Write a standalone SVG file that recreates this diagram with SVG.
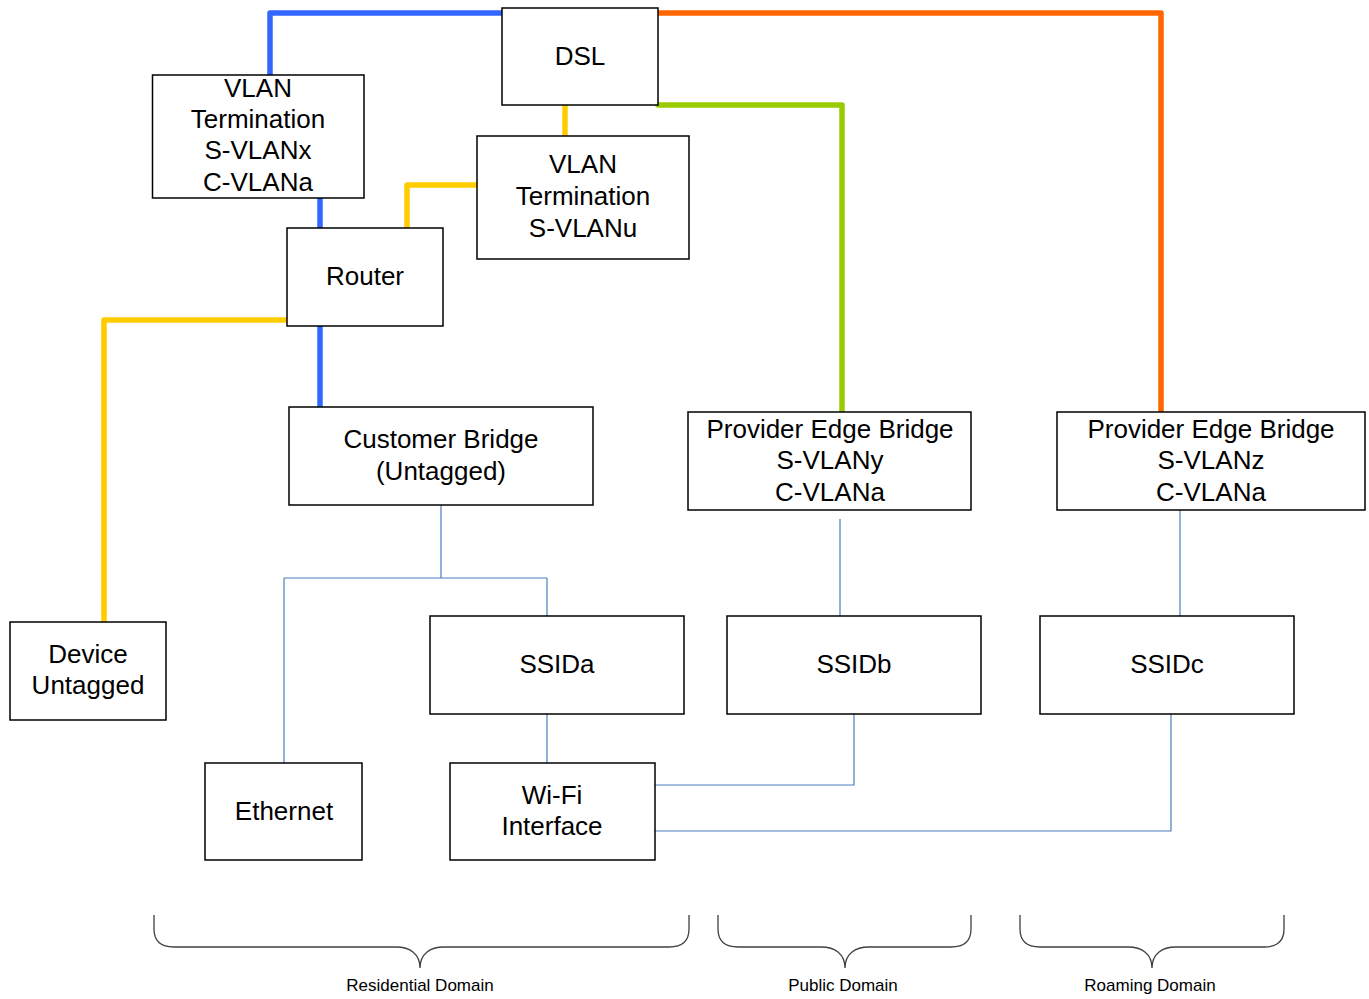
<svg xmlns="http://www.w3.org/2000/svg" width="1369" height="999" viewBox="0 0 1369 999">
<style>
.box{fill:#fff;stroke:#000;stroke-width:1.5}
.t{font-family:"Liberation Sans",Arial,sans-serif;font-size:26px;fill:#000;text-anchor:middle}
.d{font-family:"Liberation Sans",Arial,sans-serif;font-size:17px;fill:#000;text-anchor:middle}
.c{fill:none;stroke-width:5.5;stroke-linejoin:round;stroke-linecap:round}
.thin{fill:none;stroke:#4a7ebb;stroke-width:1.2}
.brace{fill:none;stroke:#404040;stroke-width:1.3}
</style>
<rect width="1369" height="999" fill="#fff"/>
<g id="connectors">
<path class="c" stroke="#3366ff" d="M502,13 H270 V75"/>
<path class="c" stroke="#3366ff" d="M320,198 V228"/>
<path class="c" stroke="#3366ff" d="M320,326 V407"/>
<path class="c" stroke="#ff6600" d="M658,13 H1161 V412"/>
<path class="c" stroke="#99cc00" d="M658,105 H842 V412"/>
<path class="c" stroke="#ffcc00" d="M565,105 V136"/>
<path class="c" stroke="#ffcc00" d="M477,185 H407 V228"/>
<path class="c" stroke="#ffcc00" d="M287,320 H104 V622"/>
<path class="thin" d="M441,505 V578 M284,578 H547 M284,578 V763 M547,578 V616 M547,714 V763"/>
<path class="thin" d="M840,519 V616 M1180,510 V616"/>
<path class="thin" d="M854,714 V785 H655 M1171,714 V831 H655"/>
</g>
<g id="dsl"><rect class="box" x="502" y="8" width="156" height="97"/><text class="t" x="580" y="65">DSL</text></g>
<g id="vlan-x"><rect class="box" x="152.5" y="75" width="211.5" height="123"/><text class="t" x="258" y="97">VLAN</text><text class="t" x="258" y="128">Termination</text><text class="t" x="258" y="159">S-VLANx</text><text class="t" x="258" y="191">C-VLANa</text></g>
<g id="vlan-u"><rect class="box" x="477" y="136" width="212" height="123"/><text class="t" x="583" y="173">VLAN</text><text class="t" x="583" y="205">Termination</text><text class="t" x="583" y="237">S-VLANu</text></g>
<g id="router"><rect class="box" x="287" y="228" width="156" height="98"/><text class="t" x="365" y="285">Router</text></g>
<g id="customer-bridge"><rect class="box" x="289" y="407" width="304" height="98"/><text class="t" x="441" y="448">Customer Bridge</text><text class="t" x="441" y="480">(Untagged)</text></g>
<g id="peb-y"><rect class="box" x="688" y="412" width="283" height="98"/><text class="t" x="830" y="438">Provider Edge Bridge</text><text class="t" x="830" y="469">S-VLANy</text><text class="t" x="830" y="501">C-VLANa</text></g>
<g id="peb-z"><rect class="box" x="1057" y="412" width="308" height="98"/><text class="t" x="1211" y="438">Provider Edge Bridge</text><text class="t" x="1211" y="469">S-VLANz</text><text class="t" x="1211" y="501">C-VLANa</text></g>
<g id="device"><rect class="box" x="10" y="622" width="156" height="98"/><text class="t" x="88" y="663">Device</text><text class="t" x="88" y="694">Untagged</text></g>
<g id="ssida"><rect class="box" x="430" y="616" width="254" height="98"/><text class="t" x="557" y="673">SSIDa</text></g>
<g id="ssidb"><rect class="box" x="727" y="616" width="254" height="98"/><text class="t" x="854" y="673">SSIDb</text></g>
<g id="ssidc"><rect class="box" x="1040" y="616" width="254" height="98"/><text class="t" x="1167" y="673">SSIDc</text></g>
<g id="ethernet"><rect class="box" x="205" y="763" width="157" height="97"/><text class="t" x="284" y="820">Ethernet</text></g>
<g id="wifi"><rect class="box" x="450" y="763" width="205" height="97"/><text class="t" x="552" y="804">Wi-Fi</text><text class="t" x="552" y="835">Interface</text></g>
<g id="residential-domain"><path class="brace" d="M154,915 V929 Q154,947 174,947 H396 C410,947 420,954 420,968 C420,954 430,947 444,947 H669 Q689,947 689,929 V915"/><text class="d" x="420" y="991">Residential Domain</text></g>
<g id="public-domain"><path class="brace" d="M718,915 V929 Q718,947 738,947 H821 C835,947 845,954 845,968 C845,954 855,947 869,947 H951 Q971,947 971,929 V915"/><text class="d" x="843" y="991">Public Domain</text></g>
<g id="roaming-domain"><path class="brace" d="M1020,915 V929 Q1020,947 1040,947 H1128 C1142,947 1152,954 1152,968 C1152,954 1162,947 1176,947 H1264 Q1284,947 1284,929 V915"/><text class="d" x="1150" y="991">Roaming Domain</text></g>
</svg>
